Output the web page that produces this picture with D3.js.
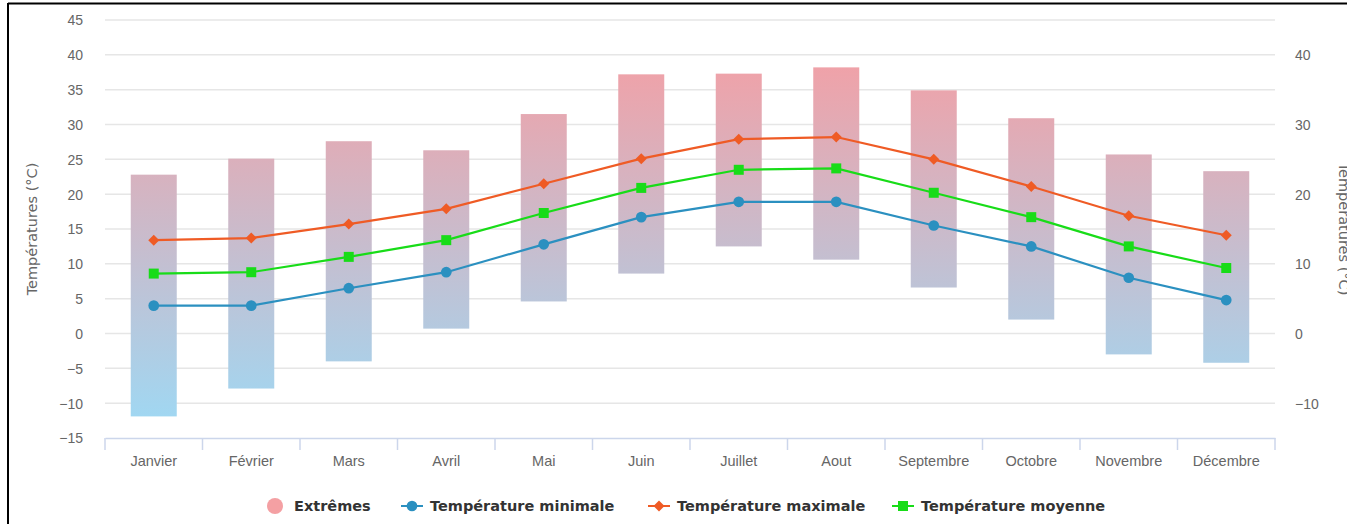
<!DOCTYPE html>
<html>
<head>
<meta charset="utf-8">
<script src="https://cdn.jsdelivr.net/npm/d3@7"></script>
<style>
  body { margin: 0; background: #fff; }
  svg { display: block; font-family: "DejaVu Sans", sans-serif; }
</style>
</head>
<body>
<svg id="chart"></svg>
<script>
// data
const months = ["Janvier", "Février", "Mars", "Avril", "Mai", "Juin", "Juillet", "Aout", "Septembre", "Octobre", "Novembre", "Décembre"];
const extremeHigh = [22.8, 25.1, 27.6, 26.3, 31.5, 37.2, 37.3, 38.2, 34.9, 30.9, 25.7, 23.3];
const extremeLow = [-11.9, -7.9, -4.0, 0.7, 4.6, 8.6, 12.5, 10.6, 6.6, 2.0, -3.0, -4.2];
const tempMin = [4.0, 4.0, 6.5, 8.8, 12.8, 16.7, 18.9, 18.9, 15.5, 12.5, 8.0, 4.8];
const tempMax = [13.4, 13.7, 15.7, 17.9, 21.5, 25.1, 27.9, 28.2, 25.0, 21.1, 16.9, 14.1];
const tempMean = [8.6, 8.8, 11.0, 13.4, 17.3, 20.9, 23.5, 23.7, 20.2, 16.7, 12.5, 9.4];
const leftTicks = [-15, -10, -5, 0, 5, 10, 15, 20, 25, 30, 35, 40, 45];
const rightTicks = [-10, 0, 10, 20, 30, 40];
const axisTitle = "Températures (°C)";

// dimensions
const width = 1347;
const height = 524;
const margin = {top: 20, right: 72, bottom: 86, left: 105};
const innerWidth = width - margin.left - margin.right;
const innerHeight = height - margin.top - margin.bottom;
const barWidth = 46;

const colMin = "#2b90c0";
const colMax = "#ef5b25";
const colMean = "#18dc18";

const svg = d3.select("#chart")
  .attr("width", width)
  .attr("height", height);

// scales
const xScale = d3.scaleBand()
  .domain(months)
  .range([margin.left, margin.left + innerWidth]);

const yScale = d3.scaleLinear()
  .domain([-15, 45])
  .range([margin.top + innerHeight, margin.top]);

// gradient for the extremes bars
const grad = svg.append("defs").append("linearGradient")
  .attr("id", "extGrad")
  .attr("gradientUnits", "userSpaceOnUse")
  .attr("x1", 0).attr("x2", 0)
  .attr("y1", yScale(40)).attr("y2", yScale(-15));
grad.append("stop").attr("offset", "0%").attr("stop-color", "#f2a0a6");
grad.append("stop").attr("offset", "100%").attr("stop-color", "#9cdaf6");

// gridlines
svg.append("g")
  .selectAll("line")
  .data(leftTicks.filter(d => d > -15))
  .enter().append("line")
  .attr("x1", margin.left)
  .attr("x2", margin.left + innerWidth)
  .attr("y1", d => yScale(d))
  .attr("y2", d => yScale(d))
  .attr("stroke", "#e6e6e6")
  .attr("stroke-width", 1.5);

const fmt = d => d < 0 ? "\u2212" + Math.abs(d) : d;

// left axis labels
const yAxisLeft = d3.axisLeft(yScale).tickValues(leftTicks).tickSize(0).tickPadding(0).tickFormat(fmt);
const gl = svg.append("g")
  .attr("transform", `translate(${margin.left - 22}, 0)`)
  .call(yAxisLeft);
gl.select(".domain").remove();
gl.selectAll("text").attr("fill", "#666").style("font-size", "14px").attr("dy", "0.35em");

// right axis labels
const yAxisRight = d3.axisRight(yScale).tickValues(rightTicks).tickSize(0).tickPadding(0).tickFormat(fmt);
const gr = svg.append("g")
  .attr("transform", `translate(${margin.left + innerWidth + 20}, 0)`)
  .call(yAxisRight);
gr.select(".domain").remove();
gr.selectAll("text").attr("fill", "#666").style("font-size", "14px").attr("dy", "0.35em");

// axis titles
svg.append("text")
  .attr("transform", `translate(37, 229) rotate(-90)`)
  .attr("text-anchor", "middle")
  .attr("fill", "#666")
  .style("font-size", "14.5px")
  .text(axisTitle);

svg.append("text")
  .attr("transform", `translate(1339, 229) rotate(90)`)
  .attr("text-anchor", "middle")
  .attr("fill", "#666")
  .style("font-size", "14.5px")
  .text(axisTitle);

// x axis
const xAxis = d3.axisBottom(xScale).tickSize(0).tickPadding(0);
const gx = svg.append("g")
  .attr("transform", `translate(0, ${margin.top + innerHeight})`)
  .call(xAxis);
gx.select(".domain").attr("stroke", "#ccd6eb").attr("stroke-width", 1.5);
gx.selectAll("text").attr("fill", "#666").style("font-size", "14.5px").attr("y", 28).attr("dy", 0);
// tick marks between categories
gx.append("g").selectAll("line")
  .data(d3.range(months.length + 1))
  .enter().append("line")
  .attr("x1", i => margin.left + i * xScale.bandwidth())
  .attr("x2", i => margin.left + i * xScale.bandwidth())
  .attr("y1", 0)
  .attr("y2", 12)
  .attr("stroke", "#ccd6eb")
  .attr("stroke-width", 1.5);

// extremes bars
svg.append("g")
  .selectAll("rect")
  .data(months)
  .enter().append("rect")
  .attr("x", d => xScale(d) + xScale.bandwidth() / 2 - barWidth / 2)
  .attr("y", (d, i) => yScale(extremeHigh[i]))
  .attr("width", barWidth)
  .attr("height", (d, i) => yScale(extremeLow[i]) - yScale(extremeHigh[i]))
  .attr("fill", "url(#extGrad)");

// lines
const cx = d => xScale(d) + xScale.bandwidth() / 2;
const line = d3.line().x(d => cx(d[0])).y(d => yScale(d[1]));

function drawSeries(values, color, shape) {
  const pts = months.map((m, i) => [m, values[i]]);
  svg.append("path")
    .datum(pts)
    .attr("d", line)
    .attr("fill", "none")
    .attr("stroke", color)
    .attr("stroke-width", 2.2);
  svg.append("g").selectAll("path")
    .data(pts)
    .enter().append("path")
    .attr("transform", d => `translate(${cx(d[0])}, ${yScale(d[1])})`)
    .attr("d", shape)
    .attr("fill", color);
}

const circleSym = d3.symbol().type(d3.symbolCircle).size(90)();
const diamondSym = "M0,-5.5L5.5,0L0,5.5L-5.5,0Z";
const squareSym = "M-5,-5H5V5H-5Z";

drawSeries(tempMin, colMin, circleSym);
drawSeries(tempMax, colMax, diamondSym);
drawSeries(tempMean, colMean, squareSym);

// legend
const legendY = 506;
const legend = svg.append("g");
legend.append("circle")
  .attr("cx", 275).attr("cy", legendY).attr("r", 8)
  .attr("fill", "#f4a0a3");
legend.append("text")
  .attr("x", 294).attr("y", legendY).attr("dy", "0.35em")
  .attr("fill", "#333").style("font-size", "14.5px").style("font-weight", "bold")
  .text("Extrêmes");

const legendItems = [
  {name: "Température minimale", color: colMin, shape: circleSym, x: 401},
  {name: "Température maximale", color: colMax, shape: diamondSym, x: 648},
  {name: "Température moyenne", color: colMean, shape: squareSym, x: 892}
];
const li = legend.selectAll(".item")
  .data(legendItems)
  .enter().append("g")
  .attr("class", "item")
  .attr("transform", d => `translate(${d.x}, ${legendY})`);
li.append("line")
  .attr("x1", 0).attr("x2", 22)
  .attr("stroke", d => d.color).attr("stroke-width", 2);
li.append("path")
  .attr("transform", "translate(11,0)")
  .attr("d", d => d.shape)
  .attr("fill", d => d.color);
li.append("text")
  .attr("x", 29).attr("dy", "0.35em")
  .attr("fill", "#333").style("font-size", "14.5px").style("font-weight", "bold")
  .text(d => d.name);

// frame of the screenshot
svg.append("line").attr("x1", 8).attr("x2", width).attr("y1", 3.5).attr("y2", 3.5)
  .attr("stroke", "#000").attr("stroke-width", 2);
svg.append("line").attr("x1", 8).attr("x2", 8).attr("y1", 3).attr("y2", height)
  .attr("stroke", "#000").attr("stroke-width", 2);
</script>
</body>
</html>
